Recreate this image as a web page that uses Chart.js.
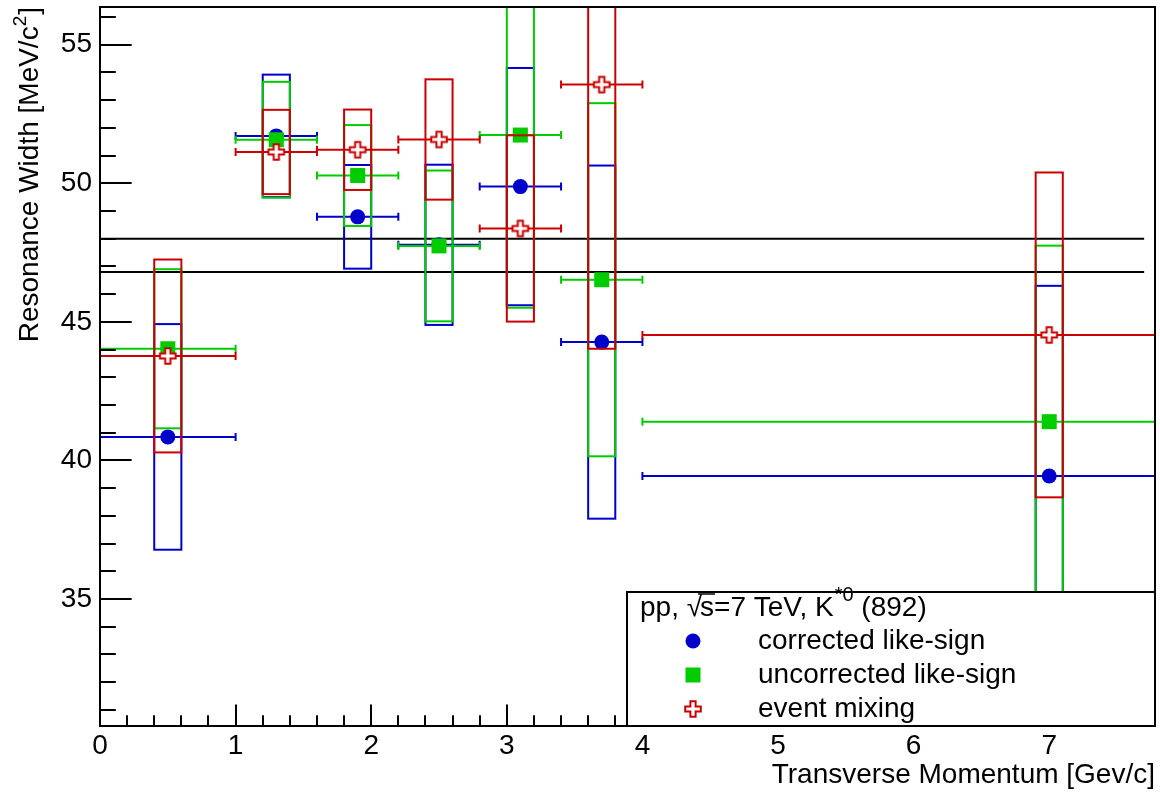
<!DOCTYPE html>
<html>
<head>
<meta charset="utf-8">
<title>K*0 resonance width vs transverse momentum</title>
<script src="https://cdn.jsdelivr.net/npm/chart.js@4.4.1/dist/chart.umd.min.js"></script>
<style>
  html, body { margin: 0; padding: 0; background: #ffffff; }
  #wrap { width: 1160px; height: 794px; }
</style>
</head>
<body>
<div id="wrap"><canvas id="chart" width="1160" height="794"></canvas></div>
<script>
// ---- data: transverse-momentum bins ----
const ptCenters = [0.5, 1.3, 1.9, 2.5, 3.1, 3.7, 7.0];
const ptLow     = [0.0, 1.0, 1.6, 2.2, 2.8, 3.4, 4.0];
const ptHigh    = [1.0, 1.6, 2.2, 2.8, 3.4, 4.0, 10.0];

// ---- data: fitted widths [MeV/c^2] and systematic uncertainties ----
const widthCorrected   = [40.85, 51.71, 48.79, 47.78, 49.88, 44.27, 39.44];
const sysCorrected     = [4.07, 2.21, 1.87, 2.89, 4.28, 6.37, 6.86];
const widthUncorrected = [44.03, 51.57, 50.28, 47.74, 51.74, 46.52, 41.40];
const sysUncorrected   = [2.87, 2.09, 1.82, 2.72, 6.23, 6.37, 6.35];
const widthMixing      = [43.77, 51.13, 51.21, 51.58, 48.37, 53.56, 44.53];
const sysMixing        = [3.48, 1.52, 1.45, 2.17, 3.36, 9.53, 5.86];

// ---- reference band (PDG width +- error) ----
const referenceWidths = [48.0, 46.8];
const referenceRange  = [0.0, 7.7];

// ---- axes ----
const xTickValues = [0, 1, 2, 3, 4, 5, 6, 7];
const yTickValues = [35, 40, 45, 50, 55];
const seriesLabels = ['corrected like-sign', 'uncorrected like-sign', 'event mixing'];
const legendHeader = ['pp, ', '\u221A', 's', '=7 TeV, K', '*0', ' (892)'];
const xTitle = 'Transverse Momentum [Gev/c]';
const yTitle = ['Resonance Width [MeV/c', '2', ']'];

// ---- styling ----
const FONT = '"Liberation Sans", Arial, Helvetica, sans-serif';
const BLUE = '#0000cc';
const GREEN = '#00cc00';
const RED = '#cc0000';
const BOX_HALF = 0.1;         // half width of systematic boxes, in GeV/c
const X_RANGE = [0, 7.78];
const Y_RANGE = [30.42, 56.36];

// open-cross marker
function makeOpenCross(color) {
  const c = document.createElement('canvas');
  c.width = 20; c.height = 20;
  const g = c.getContext('2d');
  const s = 7.8, a = 2.6, o = 10;
  const pts = [[-a,-s],[a,-s],[a,-a],[s,-a],[s,a],[a,a],[a,s],[-a,s],[-a,a],[-s,a],[-s,-a],[-a,-a]];
  g.beginPath();
  pts.forEach((p, i) => i ? g.lineTo(o + p[0], o + p[1]) : g.moveTo(o + p[0], o + p[1]));
  g.closePath();
  g.fillStyle = '#ffffff';
  g.fill();
  g.lineWidth = 2;
  g.strokeStyle = color;
  g.stroke();
  return c;
}
const crossMarker = makeOpenCross(RED);

const toPoints = vals => ptCenters.map((x, i) => ({ x: x, y: vals[i] }));

const seriesSpecs = [
  { label: seriesLabels[0], values: widthCorrected,   sys: sysCorrected,   color: BLUE,  style: 'circle', radius: 7.5 },
  { label: seriesLabels[1], values: widthUncorrected, sys: sysUncorrected, color: GREEN, style: 'rect',   radius: 10.6 },
  { label: seriesLabels[2], values: widthMixing,      sys: sysMixing,      color: RED,   style: crossMarker, radius: 8 }
];

// boxes + horizontal bin bars, drawn just before each series' markers
const rootDecor = {
  id: 'rootDecor',
  beforeDatasetDraw(chart, args) {
    const spec = chart.data.datasets[args.index].spec;
    if (!spec) return;
    const { ctx, chartArea: ca, scales: { x, y } } = chart;
    ctx.save();
    ctx.beginPath();
    ctx.rect(ca.left, ca.top, ca.right - ca.left, ca.bottom - ca.top);
    ctx.clip();
    ctx.strokeStyle = spec.color;
    ctx.lineWidth = 2;
    ptCenters.forEach((c, i) => {
      const x0 = x.getPixelForValue(c - BOX_HALF), x1 = x.getPixelForValue(c + BOX_HALF);
      const y0 = y.getPixelForValue(spec.values[i] + spec.sys[i]);
      const y1 = y.getPixelForValue(spec.values[i] - spec.sys[i]);
      ctx.strokeRect(x0, y0, x1 - x0, y1 - y0);
    });
    ptCenters.forEach((c, i) => {
      const xl = x.getPixelForValue(ptLow[i]), xr = x.getPixelForValue(ptHigh[i]);
      const yy = y.getPixelForValue(spec.values[i]);
      ctx.beginPath();
      ctx.moveTo(xl, yy); ctx.lineTo(xr, yy);
      ctx.moveTo(xl, yy - 4); ctx.lineTo(xl, yy + 4);
      ctx.moveTo(xr, yy - 4); ctx.lineTo(xr, yy + 4);
      ctx.stroke();
    });
    ctx.restore();
  },
  afterDatasetsDraw(chart) {
    const { ctx, chartArea: ca, scales: { x, y } } = chart;
    ctx.save();
    ctx.strokeStyle = '#000';
    ctx.lineWidth = 2;
    // frame
    ctx.strokeRect(ca.left, ca.top, ca.right - ca.left, ca.bottom - ca.top);
    // inward ticks, y axis: major every 5, minor every 1
    const yMajLen = 0.03 * (ca.right - ca.left), xMajLen = 0.03 * (ca.bottom - ca.top);
    ctx.beginPath();
    for (let v = Math.ceil(Y_RANGE[0]); v <= Y_RANGE[1]; v++) {
      const py = Math.round(y.getPixelForValue(v));
      const len = yTickValues.includes(v) ? yMajLen : yMajLen / 2;
      ctx.moveTo(ca.left, py); ctx.lineTo(ca.left + len, py);
    }
    // x axis: major every 1, minor every 0.2
    for (let k = 0; k * 0.2 <= X_RANGE[1]; k++) {
      const v = k * 0.2;
      const px = Math.round(x.getPixelForValue(v));
      const len = (k % 5 === 0) ? xMajLen : xMajLen / 2;
      ctx.moveTo(px, ca.bottom); ctx.lineTo(px, ca.bottom - len);
    }
    ctx.stroke();

    // axis titles
    ctx.fillStyle = '#000';
    ctx.font = '28px ' + FONT;
    ctx.textAlign = 'right';
    ctx.textBaseline = 'alphabetic';
    ctx.fillText(xTitle, ca.right, 783);

    ctx.save();
    ctx.translate(38, ca.top);
    ctx.rotate(-Math.PI / 2);
    ctx.textAlign = 'left';
    const supFont = '19px ' + FONT;
    ctx.font = '28px ' + FONT;
    const w0 = ctx.measureText(yTitle[0]).width, w2 = ctx.measureText(yTitle[2]).width;
    ctx.font = supFont;
    const w1 = ctx.measureText(yTitle[1]).width;
    let tx = -(w0 + w1 + w2 + 1);
    ctx.font = '28px ' + FONT;
    ctx.fillText(yTitle[0], tx, 0); tx += w0;
    ctx.font = supFont;
    ctx.fillText(yTitle[1], tx, -12); tx += w1 + 1;
    ctx.font = '28px ' + FONT;
    ctx.fillText(yTitle[2], tx, 0);
    ctx.restore();

    // legend box
    const lx = 627, ly = 592, lw = ca.right - lx, lh = ca.bottom - ly;
    ctx.fillStyle = '#fff';
    ctx.fillRect(lx, ly, lw, lh);
    ctx.strokeRect(lx, ly, lw, lh);

    // legend header with sqrt(s) and superscript
    ctx.fillStyle = '#000';
    ctx.textAlign = 'left';
    ctx.textBaseline = 'alphabetic';
    const hb = 616;
    let hx = 640;
    ctx.font = '28px ' + FONT;
    ctx.fillText(legendHeader[0], hx, hb); hx += ctx.measureText(legendHeader[0]).width;
    ctx.fillText(legendHeader[1], hx, hb); hx += ctx.measureText(legendHeader[1]).width - 2;
    const sw = ctx.measureText(legendHeader[2]).width;
    ctx.fillText(legendHeader[2], hx, hb);
    ctx.beginPath(); ctx.lineWidth = 1.5;
    ctx.moveTo(hx - 2, 594); ctx.lineTo(hx + sw + 1, 594); ctx.stroke();
    hx += sw;
    ctx.fillText(legendHeader[3], hx, hb); hx += ctx.measureText(legendHeader[3]).width + 1;
    ctx.font = '20px ' + FONT;
    ctx.fillText(legendHeader[4], hx, 601); hx += ctx.measureText(legendHeader[4]).width;
    ctx.font = '28px ' + FONT;
    ctx.fillText(legendHeader[5], hx, hb);

    // legend entries
    const rows = [641, 675, 709];
    ctx.textBaseline = 'middle';
    seriesSpecs.forEach((s, i) => {
      const my = rows[i];
      if (s.style === 'circle') {
        ctx.fillStyle = s.color;
        ctx.beginPath(); ctx.arc(693, my, 7.5, 0, Math.PI * 2); ctx.fill();
      } else if (s.style === 'rect') {
        ctx.fillStyle = s.color;
        ctx.fillRect(693 - 7.5, my - 7.5, 15, 15);
      } else {
        ctx.drawImage(s.style, 693 - s.style.width / 2, my - s.style.height / 2);
      }
      ctx.fillStyle = '#000';
      ctx.font = '28px ' + FONT;
      ctx.fillText(s.label, 758, my);
    });
    ctx.restore();
  }
};

const datasets = [];
referenceWidths.forEach(w => {
  datasets.push({
    type: 'line',
    data: referenceRange.map(x => ({ x: x, y: w })),
    borderColor: '#000',
    borderWidth: 2,
    pointRadius: 0,
    fill: false,
    order: 10
  });
});
seriesSpecs.forEach((s, i) => {
  datasets.push({
    type: 'scatter',
    label: s.label,
    spec: s,
    data: toPoints(s.values),
    pointStyle: s.style,
    pointRadius: s.radius,
    backgroundColor: s.color,
    borderColor: s.color,
    borderWidth: 0,
    order: 3 - i
  });
});

// keep the frame at fixed pixel edges: no extra label overhang padding
const noOverhang = s => { s.paddingTop = 0; s.paddingBottom = 0; s.paddingLeft = 0; s.paddingRight = 0; };

new Chart(document.getElementById('chart'), {
  type: 'scatter',
  data: { datasets: datasets },
  options: {
    responsive: false,
    animation: false,
    events: [],
    layout: { autoPadding: false, padding: { top: 7, right: 5, left: 0, bottom: 0 } },
    plugins: { legend: { display: false }, tooltip: { enabled: false } },
    scales: {
      x: {
        type: 'linear',
        min: X_RANGE[0],
        max: X_RANGE[1],
        grid: { display: false, drawTicks: false },
        border: { display: false },
        ticks: { color: '#000', font: { family: FONT, size: 28 }, padding: 3 },
        afterBuildTicks: s => { s.ticks = xTickValues.map(v => ({ value: v })); },
        afterFit: s => { s.height = 68; noOverhang(s); }
      },
      y: {
        type: 'linear',
        min: Y_RANGE[0],
        max: Y_RANGE[1],
        grid: { display: false, drawTicks: false },
        border: { display: false },
        ticks: { color: '#000', font: { family: FONT, size: 28 }, padding: 8 },
        afterBuildTicks: s => { s.ticks = yTickValues.map(v => ({ value: v })); },
        afterFit: s => { s.width = 100; noOverhang(s); }
      }
    }
  },
  plugins: [rootDecor]
});
</script>
</body>
</html>
